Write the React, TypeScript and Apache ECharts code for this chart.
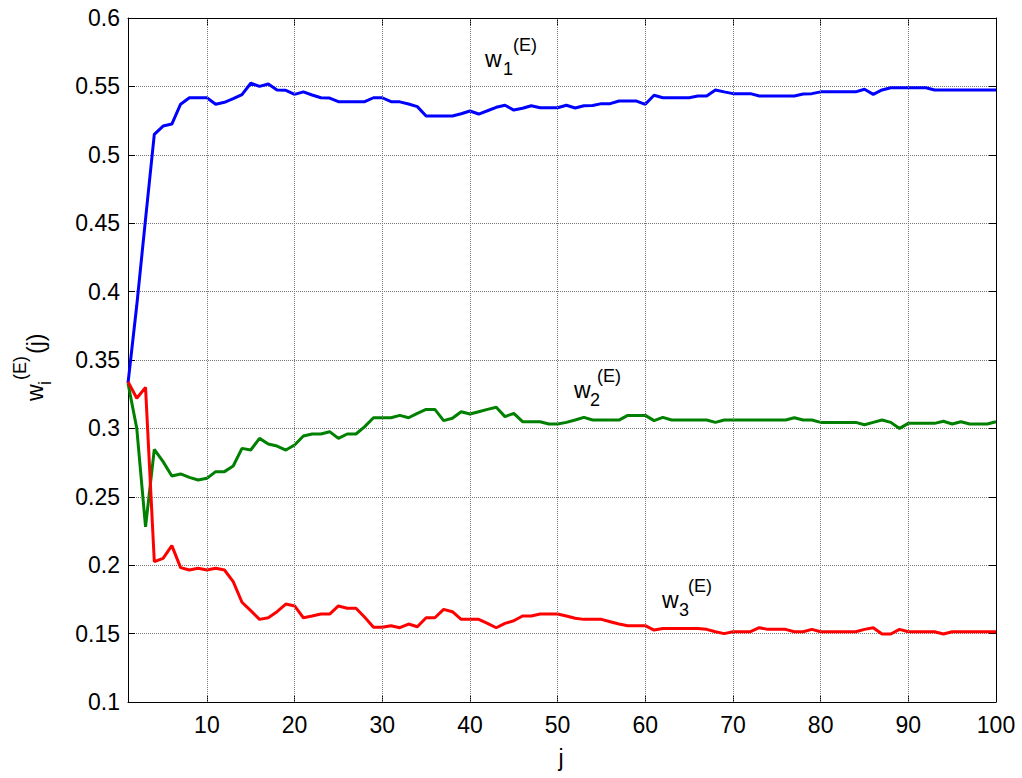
import React, { useEffect, useRef } from "react";
import * as echarts from "echarts";

// j = 1..100
const jValues: number[] = Array.from({ length: 100 }, (_, i) => i + 1);

const w1: number[] = [
  0.333, 0.39, 0.453, 0.515, 0.521, 0.5225, 0.537, 0.5417, 0.5417, 0.5417,
  0.537, 0.5384, 0.541, 0.544, 0.5523, 0.55, 0.5518, 0.5474, 0.5471, 0.5442,
  0.546, 0.5437, 0.5417, 0.5415, 0.5388, 0.5388, 0.5388, 0.5388, 0.5417, 0.5417,
  0.5388, 0.5387, 0.5371, 0.5352, 0.5284, 0.5284, 0.5284, 0.5284, 0.53, 0.532,
  0.5298, 0.5322, 0.5347, 0.5362, 0.5327, 0.534, 0.5359, 0.5344, 0.5344, 0.5344,
  0.5362, 0.5342, 0.5359, 0.536, 0.5374, 0.5374, 0.5393, 0.5393, 0.5393, 0.5369,
  0.5435, 0.5417, 0.5417, 0.5417, 0.5417, 0.543, 0.543, 0.5474, 0.546, 0.5447,
  0.5447, 0.5447, 0.543, 0.543, 0.543, 0.543, 0.543, 0.5444, 0.5447, 0.546,
  0.546, 0.546, 0.546, 0.546, 0.5479, 0.5442, 0.5474, 0.549, 0.549, 0.549,
  0.549, 0.549, 0.5474, 0.5474, 0.5474, 0.5474, 0.5474, 0.5474, 0.5474, 0.5474,
];

const w2: number[] = [
  0.333, 0.3, 0.228, 0.2847, 0.2757, 0.2652, 0.2667, 0.2642, 0.2623, 0.2635,
  0.2684, 0.2684, 0.2725, 0.2854, 0.2842, 0.2927, 0.2886, 0.2871, 0.2842, 0.2879,
  0.2944, 0.2959, 0.2959, 0.2976, 0.2927, 0.2959, 0.2959, 0.3013, 0.3078, 0.3078,
  0.3078, 0.3095, 0.3078, 0.311, 0.3139, 0.3139, 0.3057, 0.3074, 0.3122, 0.3105,
  0.3122, 0.3139, 0.3154, 0.3086, 0.311, 0.3049, 0.3049, 0.3049, 0.3032, 0.3032,
  0.3044, 0.3061, 0.3081, 0.3061, 0.3061, 0.3061, 0.3061, 0.3095, 0.3095, 0.3095,
  0.3057, 0.3081, 0.3061, 0.3061, 0.3061, 0.3061, 0.3061, 0.3044, 0.3061, 0.3061,
  0.3061, 0.3061, 0.3061, 0.3061, 0.3061, 0.3061, 0.3078, 0.3061, 0.3061, 0.3044,
  0.3044, 0.3044, 0.3044, 0.3044, 0.3027, 0.3044, 0.3061, 0.3044, 0.3, 0.3037,
  0.3037, 0.3037, 0.3037, 0.3052, 0.3032, 0.3049, 0.3032, 0.3032, 0.3032, 0.3049,
];

const w3: number[] = [
  0.3342, 0.322, 0.33, 0.2026, 0.205, 0.2143, 0.1982, 0.1965, 0.1977, 0.1965,
  0.1977, 0.1965, 0.188, 0.1729, 0.1668, 0.1604, 0.1616, 0.166, 0.1716, 0.1702,
  0.1616, 0.1629, 0.1643, 0.1643, 0.1702, 0.1685, 0.1685, 0.1619, 0.1546, 0.1546,
  0.1558, 0.1543, 0.157, 0.155, 0.1616, 0.1616, 0.1677, 0.166, 0.1604, 0.1604,
  0.1604, 0.1575, 0.1543, 0.1575, 0.1594, 0.1629, 0.1629, 0.1643, 0.1643, 0.1643,
  0.1629, 0.1612, 0.1604, 0.1604, 0.1604, 0.1587, 0.157, 0.1558, 0.1558, 0.1558,
  0.1526, 0.1538, 0.1538, 0.1538, 0.1538, 0.1538, 0.1531, 0.1514, 0.15, 0.1514,
  0.1514, 0.1514, 0.1543, 0.1531, 0.1531, 0.1531, 0.1514, 0.1514, 0.1531, 0.1514,
  0.1514, 0.1514, 0.1514, 0.1514, 0.1531, 0.1543, 0.1497, 0.1497, 0.1531, 0.1514,
  0.1514, 0.1514, 0.1514, 0.1497, 0.1514, 0.1514, 0.1514, 0.1514, 0.1514, 0.1514,
];

const xTicks: number[] = [10, 20, 30, 40, 50, 60, 70, 80, 90, 100];
const xGridLines: number[] = [10, 20, 30, 40, 50, 60, 70, 80, 90];

const FONT = "'Liberation Sans', Arial, Helvetica, sans-serif";

function pairs(vals: number[]): number[][] {
  return vals.map((v, i) => [jValues[i], v]);
}

function label(
  x: number,
  y: number,
  sub: string,
  mainSize: number,
  smallSize: number,
  subDx: number,
  supDx: number
) {
  // x,y: left edge, baseline-ish center of "w"
  return [
    { type: "text", x, y, style: { text: "w", font: `${mainSize}px ${FONT}`, fill: "#000", align: "left", verticalAlign: "middle" } },
    { type: "text", x: x + subDx, y: y + 10, style: { text: sub, font: `${smallSize}px ${FONT}`, fill: "#000", align: "left", verticalAlign: "middle" } },
    { type: "text", x: x + supDx, y: y - 14, style: { text: "(E)", font: `${smallSize}px ${FONT}`, fill: "#000", align: "left", verticalAlign: "middle" } },
  ];
}

export default function App() {
  const ref = useRef<HTMLDivElement>(null);

  useEffect(() => {
    if (!ref.current) return;
    const chart = echarts.init(ref.current, null, { renderer: "svg" });
    const axisCommon = {
      type: "value",
      axisLine: { show: true, lineStyle: { color: "#000", width: 1 } },
    };
    const option: any = {
      animation: false,
      backgroundColor: "#fff",
      grid: { left: 128, right: 26, top: 18, bottom: 76, containLabel: false },
      xAxis: [
        {
          ...axisCommon,
          position: "bottom",
          min: 1,
          max: 100,
          axisTick: { show: true, inside: true, length: 7, lineStyle: { color: "#000" }, customValues: xTicks },
          axisLabel: { show: true, customValues: xTicks, fontSize: 23, fontFamily: FONT, color: "#000", margin: 11 },
          splitLine: { show: false },
        },
        {
          ...axisCommon,
          position: "top",
          min: 1,
          max: 100,
          axisTick: { show: true, inside: true, length: 7, lineStyle: { color: "#000" }, customValues: xTicks },
          axisLabel: { show: false },
          splitLine: { show: false },
        },
      ],
      yAxis: [
        {
          ...axisCommon,
          position: "left",
          min: 0.1,
          max: 0.6,
          interval: 0.05,
          axisTick: { show: true, inside: true, length: 7, lineStyle: { color: "#000" } },
          axisLabel: { show: true, fontSize: 23, fontFamily: FONT, color: "#000", margin: 8 },
          splitLine: { show: true, lineStyle: { type: "dotted", color: "#777", width: 1 } },
        },
        {
          ...axisCommon,
          position: "right",
          min: 0.1,
          max: 0.6,
          interval: 0.05,
          axisTick: { show: true, inside: true, length: 7, lineStyle: { color: "#000" } },
          axisLabel: { show: false },
          splitLine: { show: false },
        },
      ],
      series: [
        {
          type: "line",
          name: "grid",
          data: [],
          silent: true,
          z: 1,
          markLine: {
            silent: true,
            symbol: ["none", "none"],
            label: { show: false },
            lineStyle: { type: "dotted", color: "#777", width: 1 },
            data: xGridLines.map((v) => ({ xAxis: v })),
          },
        },
        {
          type: "line",
          name: "w1",
          data: pairs(w1),
          showSymbol: false,
          lineStyle: { color: "#0000ff", width: 3 },
          itemStyle: { color: "#0000ff" },
          z: 3,
        },
        {
          type: "line",
          name: "w2",
          data: pairs(w2),
          showSymbol: false,
          lineStyle: { color: "#008000", width: 3 },
          itemStyle: { color: "#008000" },
          z: 3,
        },
        {
          type: "line",
          name: "w3",
          data: pairs(w3),
          showSymbol: false,
          lineStyle: { color: "#ff0000", width: 3 },
          itemStyle: { color: "#ff0000" },
          z: 3,
        },
      ],
      graphic: [
        ...label(485, 59, "1", 23, 18, 18, 28),
        ...label(574, 390, "2", 23, 18, 16, 23),
        ...label(662, 600, "3", 23, 18, 17, 26),
        // x axis name
        { type: "text", x: 561, y: 758, style: { text: "j", font: `23px ${FONT}`, fill: "#000", align: "center", verticalAlign: "middle" } },
        // y axis name (rotated)
        { type: "text", x: 35, y: 401, rotation: Math.PI / 2, style: { text: "w", font: `23px ${FONT}`, fill: "#000", align: "left", verticalAlign: "middle" } },
        { type: "text", x: 45, y: 385, rotation: Math.PI / 2, style: { text: "i", font: `18px ${FONT}`, fill: "#000", align: "left", verticalAlign: "middle" } },
        { type: "text", x: 20, y: 380, rotation: Math.PI / 2, style: { text: "(E)", font: `18px ${FONT}`, fill: "#000", align: "left", verticalAlign: "middle" } },
        { type: "text", x: 36, y: 354, rotation: Math.PI / 2, style: { text: "(j)", font: `23px ${FONT}`, fill: "#000", align: "left", verticalAlign: "middle" } },
      ],
    };
    chart.setOption(option);
    return () => chart.dispose();
  }, []);

  return (
    <div
      ref={ref}
      style={{ position: "fixed", left: 0, top: 0, width: 1022, height: 778, background: "#fff" }}
    />
  );
}
